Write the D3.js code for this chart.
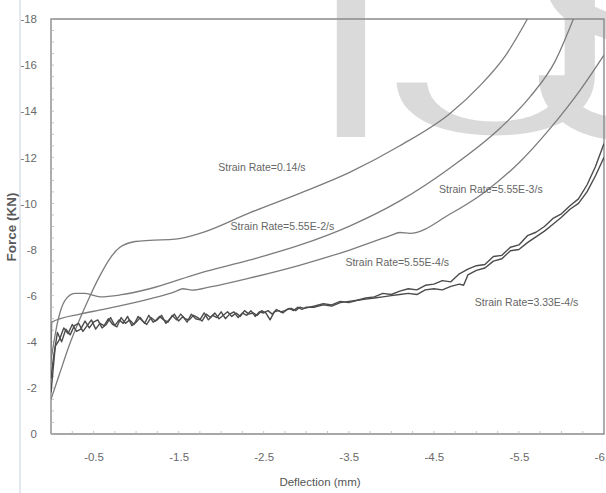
<!DOCTYPE html>
<html><head><meta charset="utf-8">
<script src="https://cdn.jsdelivr.net/npm/d3@7"></script>
<style>
body{margin:0;background:#fff;}
svg{display:block;}
</style></head>
<body><svg id="c" width="606" height="493"></svg>
<script>
// ---- data (Deflection mm, Force KN) ----
const yTicks = [0,-2,-4,-6,-8,-10,-12,-14,-16,-18];
const xTicks = [-0.5,-1.5,-2.5,-3.5,-4.5,-5.5,-6.5];
const seriesNames = ["Strain Rate=0.14/s","Strain Rate=5.55E-2/s","Strain Rate=5.55E-3/s","Strain Rate=5.55E-4/s","Strain Rate=3.33E-4/s"];
const watermark = ["I","J","S"];

const rateA_x = [0,-0.1,-0.22,-0.34,-0.46,-0.58,-0.69,-0.81,-0.99,-1.16,-1.46,-1.75,-2.34,-2.93,-3.51,-4.1,-4.69,-5.04,-5.34,-5.6];
const rateA_y = [-1.5,-2.6,-3.9,-5.0,-6.0,-6.9,-7.6,-8.1,-8.35,-8.4,-8.45,-8.7,-9.6,-10.45,-11.35,-12.5,-13.9,-15.1,-16.4,-18];

const rateB_x = [0,-0.08,-0.165,-0.28,-0.4,-0.58,-0.81,-1.16,-1.75,-2.34,-2.93,-3.51,-4.1,-4.69,-5.28,-5.63,-5.92,-6.14];
const rateB_y = [-3.2,-4.9,-5.8,-6.1,-6.1,-5.95,-6.03,-6.3,-6.98,-7.55,-8.2,-9.02,-10.11,-11.54,-13.27,-14.62,-16.13,-18];

const rateC_x = [0,-0.01,-0.34,-0.58,-1.16,-1.46,-1.55,-1.66,-1.87,-2.34,-2.93,-3.51,-3.98,-4.1,-4.22,-4.69,-5.1,-5.51,-5.87,-6.22,-6.5];
const rateC_y = [-3.0,-4.85,-5.2,-5.38,-5.86,-6.18,-6.3,-6.24,-6.38,-6.77,-7.33,-7.98,-8.59,-8.74,-8.7,-9.54,-10.5,-11.8,-13.27,-14.92,-16.44];

const rateD_x = [0,-0.05,-0.1,-0.15,-0.2,-0.25,-0.3,-0.35,-0.4,-0.45,-0.5,-0.55,-0.6,-0.65,-0.7,-0.75,-0.8,-0.85,-0.9,-0.95,-1.0,-1.05,-1.1,-1.15,-1.2,-1.25,-1.3,-1.35,-1.4,-1.45,-1.5,-1.55,-1.6,-1.65,-1.7,-1.75,-1.8,-1.85,-1.9,-1.95,-2.0,-2.05,-2.1,-2.15,-2.2,-2.25,-2.3,-2.35,-2.4,-2.45,-2.5,-2.55,-2.6,-2.65,-2.7,-2.75,-2.8,-2.85,-2.9,-2.95,-3.0,
  -3.1,-3.2,-3.3,-3.4,-3.5,-3.6,-3.7,-3.8,-3.9,-4.0,-4.1,-4.2,-4.3,-4.4,-4.5,-4.6,-4.7,-4.8,-4.9,-5.0,-5.1,-5.2,-5.3,-5.4,-5.5,-5.6,-5.7,-5.8,-5.9,-6.0,-6.1,-6.2,-6.3,-6.4,-6.5];
const rateD_y = [-1.8,-3.8,-4.1,-4.6,-4.35,-4.75,-4.45,-4.55,-4.9,-4.6,-4.85,-4.95,-4.6,-4.75,-5.05,-4.7,-4.95,-4.8,-5.1,-4.7,-4.85,-5.05,-4.8,-5.15,-4.85,-4.95,-5.15,-4.8,-5.0,-5.2,-4.9,-5.1,-4.85,-5.2,-5.0,-4.95,-5.25,-4.95,-5.15,-5.05,-5.3,-5.0,-5.2,-5.3,-5.05,-5.25,-5.15,-5.35,-5.1,-5.3,-5.25,-5.35,-5.2,-5.4,-5.3,-5.35,-5.45,-5.35,-5.5,-5.4,-5.5,
  -5.5,-5.6,-5.55,-5.7,-5.75,-5.8,-5.9,-5.95,-6.1,-6.05,-6.2,-6.3,-6.25,-6.45,-6.5,-6.65,-6.6,-6.95,-7.15,-7.3,-7.35,-7.7,-7.75,-8.1,-8.2,-8.6,-8.75,-9.0,-9.35,-9.55,-9.9,-10.2,-10.8,-11.6,-12.6];

const rateE_x = [0,-0.025,-0.075,-0.125,-0.175,-0.225,-0.275,-0.325,-0.375,-0.425,-0.475,-0.525,-0.575,-0.625,-0.675,-0.725,-0.775,-0.825,-0.875,-0.925,-0.975,-1.025,-1.075,-1.125,-1.175,-1.225,-1.275,-1.325,-1.375,-1.425,-1.475,-1.525,-1.575,-1.625,-1.675,-1.725,-1.775,-1.825,-1.875,-1.925,-1.975,-2.025,-2.075,-2.125,-2.175,-2.225,-2.275,-2.325,-2.375,-2.425,-2.475,-2.525,-2.575,-2.625,-2.675,-2.725,-2.775,-2.825,-2.875,-2.925,-2.975,
  -3.1,-3.2,-3.3,-3.4,-3.5,-3.6,-3.7,-3.8,-3.9,-4.0,-4.1,-4.2,-4.3,-4.4,-4.5,-4.6,-4.7,-4.8,-4.85,-4.9,-5.0,-5.1,-5.2,-5.3,-5.4,-5.5,-5.6,-5.7,-5.8,-5.9,-6.0,-6.1,-6.2,-6.3,-6.4,-6.5];
const rateE_y = [-2.4,-3.2,-4.4,-4.0,-4.55,-4.3,-4.7,-4.8,-4.45,-4.7,-4.95,-4.55,-4.8,-4.7,-5.0,-4.75,-4.65,-5.05,-4.8,-4.95,-4.75,-5.1,-4.9,-4.75,-5.05,-4.9,-5.1,-4.95,-4.85,-5.15,-4.95,-5.2,-5.0,-4.95,-5.15,-5.05,-4.9,-5.2,-5.05,-5.25,-5.0,-5.15,-5.3,-5.1,-5.25,-5.1,-5.35,-5.2,-5.25,-5.15,-5.35,-5.25,-4.95,-5.3,-5.35,-5.25,-5.4,-5.45,-5.35,-5.5,-5.45,
  -5.55,-5.65,-5.6,-5.75,-5.7,-5.8,-5.85,-5.9,-5.95,-6.0,-6.05,-6.1,-6.05,-6.25,-6.3,-6.25,-6.4,-6.5,-6.45,-6.9,-7.1,-7.2,-7.5,-7.6,-7.95,-8.0,-8.3,-8.55,-8.8,-9.1,-9.4,-9.75,-10.0,-10.5,-11.2,-12.0];

// ---- layout ----
const svg = d3.select("#c");
const L = 51, R = 604, T = 19, B = 434;
const x = d3.scaleLinear().domain([0,-6.5]).range([L,R]);
const y = d3.scaleLinear().domain([0,-18]).range([B,T]);
const font = "'Liberation Sans Narrow','Liberation Sans',Arial,sans-serif";

// faint page edge line
svg.append("line").attr("x1",20).attr("x2",20).attr("y1",0).attr("y2",493)
  .attr("stroke","#e4e8ee").attr("stroke-width",2);

// watermark letters (each placed and stretched to the reference's shapes)
const wmPos = [[310,1],[377,1.58],[527,1]];
const wmThin = [0,9,0];
svg.append("g").selectAll("text").data(watermark).join("text")
  .attr("transform",(d,i)=>`translate(${wmPos[i][0]},137) scale(${wmPos[i][1]},1)`)
  .attr("font-family","Roboto,'Liberation Sans',Arial,sans-serif").attr("font-size",300)
  .attr("fill","#dadada")
  .attr("stroke",(d,i)=>wmThin[i]?"#fff":"none").attr("stroke-width",(d,i)=>wmThin[i])
  .attr("stroke-linejoin","round")
  .text(d=>d);

// frame
svg.append("path").attr("d",`M${L},${B}V${T}H${R}V${B}H${L}`)
  .attr("fill","none").attr("stroke","#8a8a8a").attr("stroke-width",1.4);

// minor ticks
const gMinor = svg.append("g").attr("stroke","#b5b5b5").attr("stroke-width",0.8);
gMinor.selectAll("line.ym").data(d3.range(0,-18.01,-0.5)).join("line")
  .attr("x1",L).attr("x2",L+3).attr("y1",d=>y(d)).attr("y2",d=>y(d));
gMinor.selectAll("line.xm").data(d3.range(-0.25,-6.5,-0.25)).join("line")
  .attr("y1",B).attr("y2",B-3).attr("x1",d=>x(d)).attr("x2",d=>x(d));

// axes
const yAxis = d3.axisLeft(y).tickValues(yTicks).tickSize(0).tickPadding(14)
  .tickFormat(d=>String(d));
const gy = svg.append("g").attr("transform",`translate(${L},0)`).call(yAxis);
const xAxis = d3.axisBottom(x).tickValues(xTicks).tickSize(0).tickPadding(19)
  .tickFormat(d=>String(d));
const gx = svg.append("g").attr("transform",`translate(0,${B})`).call(xAxis);
[gy,gx].forEach(g=>{
  g.select(".domain").remove();
  g.selectAll("text").attr("font-family",font).attr("font-size",11.5).attr("fill","#6a6a6a");
});

// axis titles
svg.append("text").attr("x",320).attr("y",486).attr("text-anchor","middle")
  .attr("font-family",font).attr("font-size",11.5).attr("fill","#555").text("Deflection (mm)");
svg.append("text").attr("transform","translate(16,227) rotate(-90)").attr("text-anchor","middle")
  .attr("font-family","'Liberation Sans',Arial,sans-serif").attr("font-weight","bold")
  .attr("font-size",13.5).attr("fill","#5a5a5a").text("Force (KN)");

// curves
const line = d3.line().x(d=>x(d[0])).y(d=>y(d[1]));
const smooth = d3.line().x(d=>x(d[0])).y(d=>y(d[1])).curve(d3.curveMonotoneX);
const zip = (a,b)=>a.map((v,i)=>[v,b[i]]);
const curves = [
  {xs:rateA_x, ys:rateA_y, gen:smooth, c:"#7c7c7c", w:1.3},
  {xs:rateB_x, ys:rateB_y, gen:smooth, c:"#7c7c7c", w:1.3},
  {xs:rateC_x, ys:rateC_y, gen:smooth, c:"#7c7c7c", w:1.3},
  {xs:rateD_x, ys:rateD_y, gen:line, c:"#4c4c4c", w:1.4},
  {xs:rateE_x, ys:rateE_y, gen:line, c:"#4c4c4c", w:1.4}
];
svg.append("clipPath").attr("id","pc").append("rect")
  .attr("x",L).attr("y",T).attr("width",R-L).attr("height",B-T);
svg.append("g").attr("clip-path","url(#pc)").selectAll("path").data(curves).join("path")
  .attr("d",d=>d.gen(zip(d.xs,d.ys))).attr("fill","none")
  .attr("stroke",d=>d.c).attr("stroke-width",d=>d.w).attr("stroke-linejoin","round");

// series labels
const labelPos = [[-2.48,-11.52],[-2.72,-8.95],[-5.17,-10.58],[-4.07,-7.42],[-5.59,-5.68]];
svg.append("g").selectAll("text").data(seriesNames).join("text")
  .attr("x",(d,i)=>x(labelPos[i][0])).attr("y",(d,i)=>y(labelPos[i][1]))
  .attr("text-anchor","middle").attr("dominant-baseline","middle")
  .attr("font-family",font).attr("font-size",10.5).attr("fill","#666").text(d=>d);
</script></body></html>
